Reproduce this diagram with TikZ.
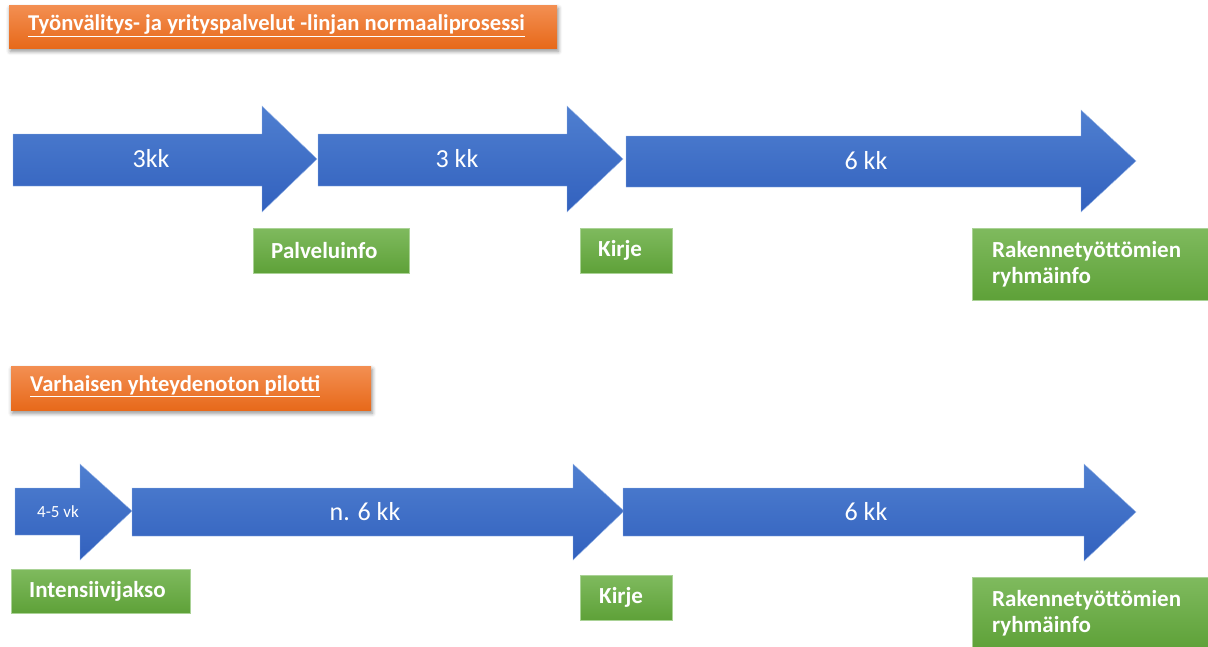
\documentclass[tikz,border=0pt]{standalone}
\usepackage{fontspec}
\setmainfont{Carlito}
\usetikzlibrary{shadows.blur}
\definecolor{arrtop}{RGB}{79,127,208}
\definecolor{arrbot}{RGB}{50,97,190}
\definecolor{arredge}{RGB}{150,180,230}
\definecolor{grtop}{RGB}{127,186,94}
\definecolor{grbot}{RGB}{94,161,56}
\definecolor{gredge}{RGB}{170,210,150}
\definecolor{ortop}{RGB}{243,143,82}
\definecolor{orbot}{RGB}{231,105,26}
\tikzset{
  arrowshape/.style={top color=arrtop, bottom color=arrbot, draw=arredge, line width=0.4pt},
  arrowtext/.style={text=white, font=\fontsize{26}{30}\selectfont, inner sep=0pt},
  smallarrowtext/.style={text=white, font=\fontsize{17}{20}\selectfont, inner sep=0pt},
  greenbox/.style={top color=grtop, bottom color=grbot, draw=gredge, line width=0.4pt,
    anchor=north west, inner xsep=18pt, inner ysep=0pt, align=left,
    text=white, font=\bfseries\fontsize{23}{26}\selectfont},
  titlebox/.style={top color=ortop, bottom color=orbot, anchor=north west,
    blur shadow={shadow xshift=1pt, shadow yshift=-3pt, shadow blur radius=4pt, shadow opacity=45}},
  titletext/.style={text=white, font=\bfseries\fontsize{22.6}{26}\selectfont, anchor=west, inner sep=0pt}
}
\begin{document}
\begin{tikzpicture}[x=1pt,y=-1pt]
\useasboundingbox (0,0) rectangle (1208,646);

% titles
\node[titlebox, minimum width=548pt, minimum height=43pt] (t1box) at (9,5) {};
\node[titletext] (t1) at (28,25.5) {\underline{Työnvälitys- ja yrityspalvelut -linjan normaaliprosessi}};
\node[titlebox, minimum width=360pt, minimum height=44pt] (t2box) at (11,366) {};
\node[titletext] (t2) at (30,386.5) {\underline{Varhaisen yhteydenoton pilotti}};

% row 1 arrows
\shade[arrowshape] (13,134) -- (262,134) -- (262,106) -- (317,159) -- (262,212) -- (262,186) -- (13,186) -- cycle;
\node[arrowtext] (a1) at (151,159) {3kk};
\shade[arrowshape] (318,134) -- (567,134) -- (567,106) -- (623,159) -- (567,212) -- (567,186) -- (318,186) -- cycle;
\node[arrowtext] (a2) at (457,159) {3 kk};
\shade[arrowshape] (626,136) -- (1081,136) -- (1081,110) -- (1136,161) -- (1081,212) -- (1081,187) -- (626,187) -- cycle;
\node[arrowtext] (a3) at (866,161) {6 kk};

% row 1 green boxes
\node[greenbox, minimum width=156pt, minimum height=45pt, text width=120pt] (g1) at (253,228) {Palveluinfo};
\node[greenbox, minimum width=92pt, minimum height=45pt, text width=56pt] (g2) at (580,228) {Kirje};
\node[greenbox, minimum width=235pt, minimum height=72pt, text width=199pt, inner xsep=20pt] (g3) at (972,228) {Rakennetyöttömien\\ryhmäinfo};

% row 2 arrows
\shade[arrowshape] (15,488) -- (80,488) -- (80,464) -- (132,511) -- (80,560) -- (80,535) -- (15,535) -- cycle;
\node[smallarrowtext] (b1) at (58,512) {4-5 vk};
\shade[arrowshape] (132,488) -- (573,488) -- (573,464) -- (624,511) -- (573,560) -- (573,536) -- (132,536) -- cycle;
\node[arrowtext] (b2) at (365,512) {n. 6 kk};
\shade[arrowshape] (623,488) -- (1084,488) -- (1084,464) -- (1136,512) -- (1084,561) -- (1084,536) -- (623,536) -- cycle;
\node[arrowtext] (b3) at (866,512) {6 kk};

% row 2 green boxes
\node[greenbox, minimum width=179pt, minimum height=44pt, text width=143pt] (h1) at (11,569) {Intensiivijakso};
\node[greenbox, minimum width=90pt, minimum height=45pt, text width=54pt, inner xsep=19pt] (h2) at (580,575) {Kirje};
\node[greenbox, minimum width=236pt, minimum height=72pt, text width=196pt, inner xsep=20pt] (h3) at (972,577) {Rakennetyöttömien\\ryhmäinfo};
\end{tikzpicture}
\end{document}
